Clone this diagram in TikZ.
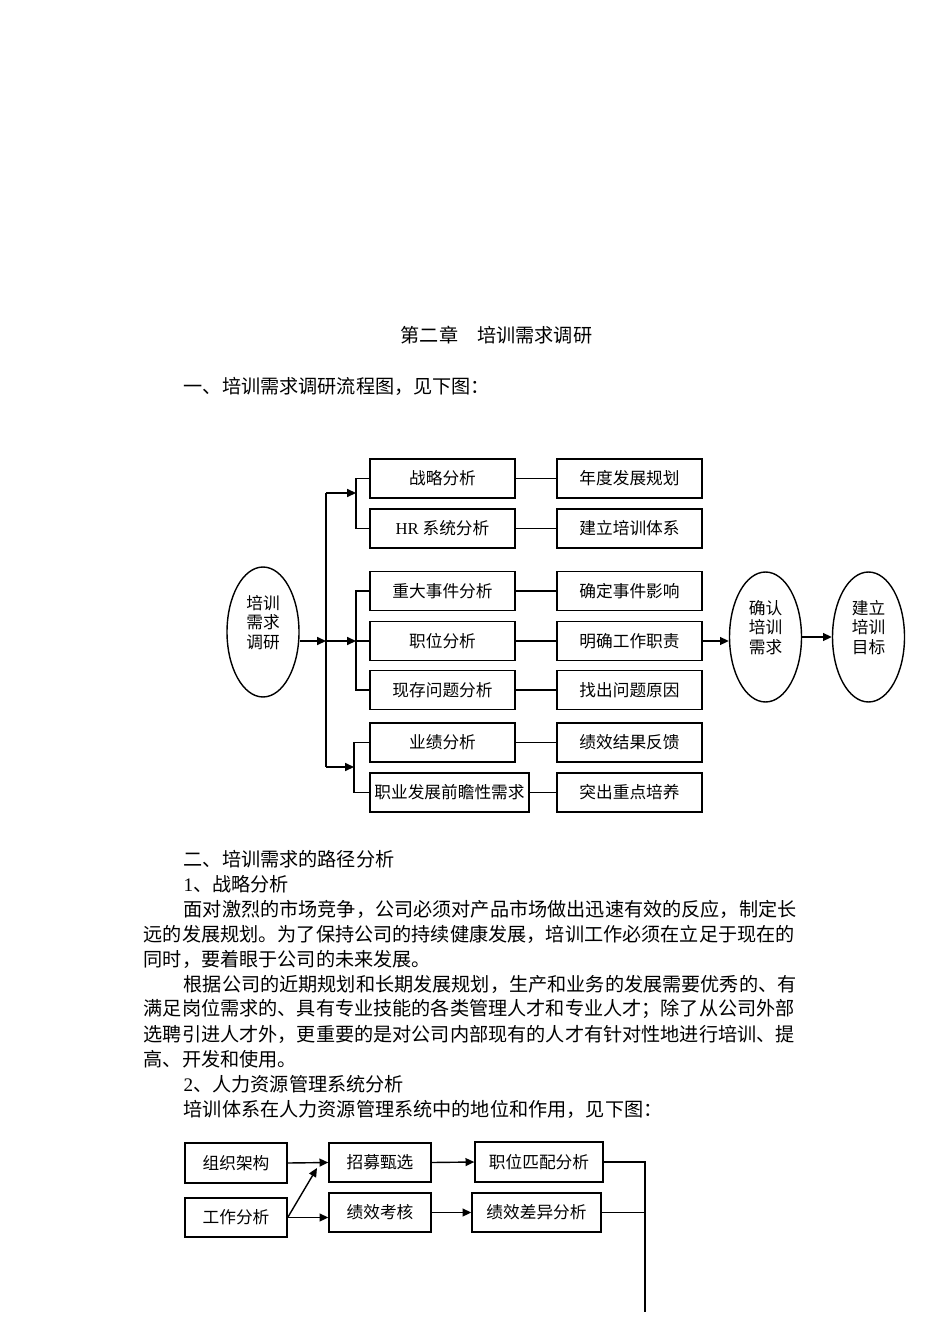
\documentclass[tikz,border=0pt]{standalone}
\usepackage{fontspec}
\setmainfont{Noto Sans CJK SC}
\newfontfamily\lat{Liberation Serif}
\usepackage{tikz}
\usetikzlibrary{positioning,arrows.meta,shapes.geometric}

\begin{document}
\begin{tikzpicture}[x=0.02cm,y=-0.02cm,line width=0.8pt,
  box/.style={draw,inner sep=0pt,minimum width=2.9cm,minimum height=0.78cm,font=\fontsize{9.5pt}{11pt}\selectfont},
  oval/.style={draw,ellipse,inner sep=0pt,minimum width=1.44cm,minimum height=2.6cm},
  lab/.style={font=\fontsize{9.5pt}{11pt}\selectfont,align=center,inner sep=0pt,yshift=5.5pt},
  txt/.style={anchor=west,inner sep=0pt,font=\fontsize{10.9pt}{13pt}\selectfont},
  tip/.style={-{Triangle[length=5pt,width=4.5pt]}}]
\useasboundingbox (0,0) rectangle (950,1344);

\node[txt] (title) at (400,335) {第二章　培训需求调研};
\node[txt] (intro) at (183,386) {一、培训需求调研流程图，见下图：};

% flow chart of the survey
\node[oval,label={[lab]center:{培训\\需求\\调研}}] (src) at (263,632) {};
\node[box] (sa) at (442.5,478.5) {战略分析};
\node[box] (hr) at (442.5,528.5) {{\lat HR} 系统分析};
\node[box] (ev) at (442.5,591) {重大事件分析};
\node[box] (pos) at (442.5,641) {职位分析};
\node[box] (prob) at (442.5,690) {现存问题分析};
\node[box] (perf) at (442.5,742.5) {业绩分析};
\node[box,minimum width=3.18cm] (career) at (449.5,792.5) {职业发展前瞻性需求};

\node[box] (plan) at (629.5,478.5) {年度发展规划};
\node[box] (sys) at (629.5,528.5) {建立培训体系};
\node[box] (impact) at (629.5,591) {确定事件影响};
\node[box] (duty) at (629.5,641) {明确工作职责};
\node[box] (cause) at (629.5,690) {找出问题原因};
\node[box] (fb) at (629.5,742.5) {绩效结果反馈};
\node[box] (focus) at (629.5,792.5) {突出重点培养};

\node[oval,label={[lab]center:{确认\\培训\\需求}}] (need) at (765.5,637) {};
\node[oval,label={[lab]center:{建立\\培训\\目标}}] (goal) at (868.5,637) {};

\coordinate (t1) at (326,493);
\coordinate (t2) at (326,641);
\coordinate (t3) at (326,767);
\coordinate (b1) at (356,0);
\coordinate (b3) at (354,0);

\draw (t1) -- (t3);
\draw[tip] (src.east |- t2) -- (t2);
\draw[tip] (t1) -- (t1 -| b1);
\draw[tip] (t2) -- (t2 -| b1);
\draw[tip] (t3) -- (t3 -| b3);
\draw (sa.west) -- (sa.west -| b1) |- (hr.west);
\draw (ev.west) -- (ev.west -| b1) |- (prob.west);
\draw (pos.west) -- (pos.west -| b1);
\draw (perf.west) -- (perf.west -| b3) |- (career.west);

\draw (sa.east) -- (plan.west);
\draw (hr.east) -- (sys.west);
\draw (ev.east) -- (impact.west);
\draw (pos.east) -- (duty.west);
\draw (prob.east) -- (cause.west);
\draw (perf.east) -- (fb.west);
\draw (career.east) -- (focus.west);
\draw[tip] (duty.east) -- (duty.east -| need.west);
\draw[tip] (need.east) -- (goal.west);

% body text
\node[txt] (p1) at (183,859) {二、培训需求的路径分析};
\node[txt] (p2) at (183,884) {{\lat 1}、战略分析};
\node[txt] (p3) at (183,909) {面对激烈的市场竞争，公司必须对产品市场做出迅速有效的反应，制定长};
\node[txt] (p4) at (143,934) {远的发展规划。为了保持公司的持续健康发展，培训工作必须在立足于现在的};
\node[txt] (p5) at (143,959) {同时，要着眼于公司的未来发展。};
\node[txt] (p6) at (183,984) {根据公司的近期规划和长期发展规划，生产和业务的发展需要优秀的、有};
\node[txt] (p7) at (143,1009) {满足岗位需求的、具有专业技能的各类管理人才和专业人才；除了从公司外部};
\node[txt] (p8) at (143,1034) {选聘引进人才外，更重要的是对公司内部现有的人才有针对性地进行培训、提};
\node[txt] (p9) at (143,1059) {高、开发和使用。};
\node[txt] (p10) at (183,1084) {{\lat 2}、人力资源管理系统分析};
\node[txt] (p11) at (183,1109) {培训体系在人力资源管理系统中的地位和作用，见下图：};

% training in the HR system
\node[box,minimum width=2.04cm,minimum height=0.8cm] (org) at (236,1163) {组织架构};
\node[box,minimum width=2.04cm] (jobana) at (236,1217.5) {工作分析};
\node[box,minimum width=2.04cm] (recruit) at (380,1162.5) {招募甄选};
\node[box,minimum width=2.04cm] (assess) at (380,1212.5) {绩效考核};
\node[box,minimum width=2.56cm,minimum height=0.8cm] (match) at (539,1162) {职位匹配分析};
\node[box,minimum width=2.58cm] (gap) at (536.5,1212.5) {绩效差异分析};

\coordinate (diag) at (317,1168);
\coordinate (rail) at (645,1312);

\draw[tip] (org.east) -- (recruit.west);
\draw[tip] (jobana.east) -- (diag);
\draw[tip] (jobana.east) -- (jobana.east -| assess.west);
\draw[tip] (recruit.east) -- (match.west);
\draw[tip] (assess.east) -- (gap.west);
\draw (match.east) -| (rail);
\draw (gap.east) -- (gap.east -| rail);
\end{tikzpicture}
\end{document}
